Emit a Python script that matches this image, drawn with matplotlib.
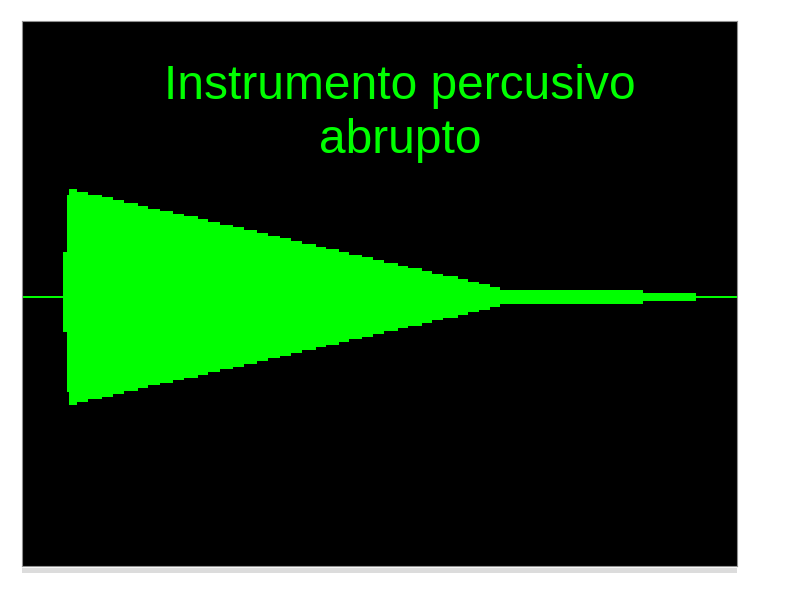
"""Percussive instrument envelope (stepped decay) on an oscilloscope-like panel."""

import matplotlib

matplotlib.use("Agg")
import matplotlib.pyplot as plt
from matplotlib.patches import Rectangle

# step start positions (horizontal units of the panel) and envelope half-heights
step_x = [22, 63, 67, 69, 77, 88, 102, 113, 124, 138, 148, 160, 173, 184, 198, 208,
          220, 233, 244, 257, 268, 280, 291, 302, 316, 326, 339, 349, 362, 373, 384,
          398, 408, 422, 432, 443, 458, 468, 479, 490, 500, 643, 696, 737]
upper = [1.2, 45, 102, 108, 105, 102, 100, 97, 94, 91, 88, 86, 83, 81, 78, 75,
         72, 70, 67, 64, 61, 59, 56, 53, 50, 48, 45, 42, 40, 37, 34,
         31, 29, 26, 23, 21, 18, 15, 13, 10, 7, 4, 1.2, 1.2]
lower = [1.2, 35, 95, 108, 105, 102, 100, 97, 94, 91, 88, 86, 83, 81, 78, 75,
         72, 70, 67, 64, 61, 59, 56, 53, 50, 48, 45, 42, 40, 37, 34,
         31, 29, 26, 23, 21, 18, 15, 13, 10, 7, 4, 1.2, 1.2]
title_lines = ["Instrumento percusivo", "abrupto"]

green = "#00ff00"

fig = plt.figure(figsize=(8, 6), dpi=100)
ax = fig.add_axes([22 / 800, 34 / 600, 715 / 800, 545 / 600])
ax.set_facecolor("black")
ax.fill_between(step_x, [-v for v in lower], upper, step="post",
                color=green, linewidth=0, antialiased=False)
ax.set_xlim(22, 737)
ax.set_ylim(-269, 276)
ax.set_xticks([])
ax.set_yticks([])
for side in ax.spines.values():
    side.set_color("#909090")
    side.set_linewidth(0.8)

font = ["Liberation Sans", "DejaVu Sans"]
ax.text(0.5287, 0.857, title_lines[0], transform=ax.transAxes, ha="center",
        va="baseline", color=green, fontsize=34.5, family=font)
ax.text(0.5287, 0.758, title_lines[1], transform=ax.transAxes, ha="center",
        va="baseline", color=green, fontsize=34.5, family=font)

# light grey band under the panel
fig.patches.append(Rectangle((22 / 800, 27 / 600), 715 / 800, 5 / 600,
                             transform=fig.transFigure, color="#dcdcdc", lw=0))

fig.savefig("out.png", dpi=100)
plt.close(fig)
